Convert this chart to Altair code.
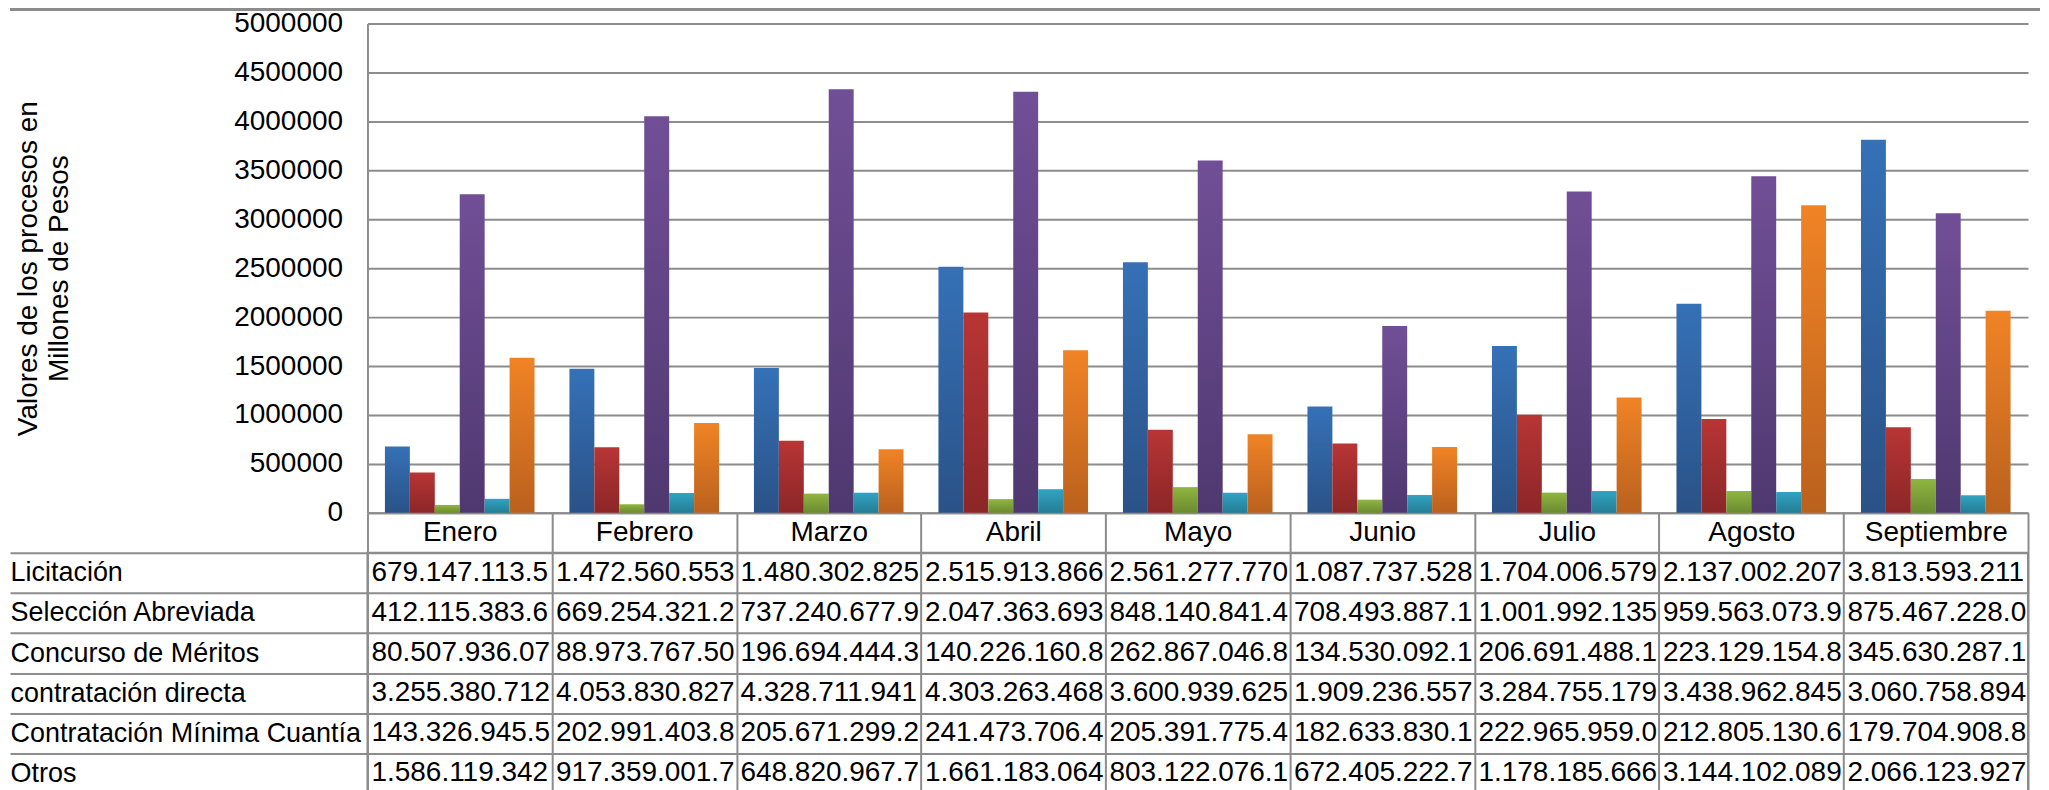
import altair as alt
import pandas as pd

FONT = "Liberation Sans"
GRAY = "#8c8c8c"

meses = ["Enero", "Febrero", "Marzo", "Abril", "Mayo", "Junio", "Julio", "Agosto", "Septiembre"]
series = ["Licitación", "Selección Abreviada", "Concurso de Méritos", "contratación directa",
          "Contratación Mínima Cuantía", "Otros"]

# valores en millones de pesos
licitacion = [679147.1, 1472560.6, 1480302.8, 2515913.9, 2561277.8, 1087737.5, 1704006.6, 2137002.2, 3813593.2]
seleccion = [412115.4, 669254.3, 737240.7, 2047363.7, 848140.8, 708493.9, 1001992.1, 959563.1, 875467.2]
concurso = [80507.9, 88973.8, 196694.4, 140226.2, 262867.0, 134530.1, 206691.5, 223129.2, 345630.3]
directa = [3255380.7, 4053830.8, 4328711.9, 4303263.5, 3600939.6, 1909236.6, 3284755.2, 3438962.8, 3060758.9]
minima = [143326.9, 202991.4, 205671.3, 241473.7, 205391.8, 182633.8, 222966.0, 212805.1, 179704.9]
otros = [1586119.3, 917359.0, 648821.0, 1661183.1, 803122.1, 672405.2, 1178185.7, 3144102.1, 2066123.9]

# textos de la tabla de datos (tal como aparecen, truncados)
txt_licitacion = ["679.147.113.5", "1.472.560.553", "1.480.302.825", "2.515.913.866", "2.561.277.770",
                  "1.087.737.528", "1.704.006.579", "2.137.002.207", "3.813.593.211"]
txt_seleccion = ["412.115.383.6", "669.254.321.2", "737.240.677.9", "2.047.363.693", "848.140.841.4",
                 "708.493.887.1", "1.001.992.135", "959.563.073.9", "875.467.228.0"]
txt_concurso = ["80.507.936.07", "88.973.767.50", "196.694.444.3", "140.226.160.8", "262.867.046.8",
                "134.530.092.1", "206.691.488.1", "223.129.154.8", "345.630.287.1"]
txt_directa = ["3.255.380.712", "4.053.830.827", "4.328.711.941", "4.303.263.468", "3.600.939.625",
               "1.909.236.557", "3.284.755.179", "3.438.962.845", "3.060.758.894"]
txt_minima = ["143.326.945.5", "202.991.403.8", "205.671.299.2", "241.473.706.4", "205.391.775.4",
              "182.633.830.1", "222.965.959.0", "212.805.130.6", "179.704.908.8"]
txt_otros = ["1.586.119.342", "917.359.001.7", "648.820.967.7", "1.661.183.064", "803.122.076.1",
             "672.405.222.7", "1.178.185.666", "3.144.102.089", "2.066.123.927"]

color_top = ["#3571b7", "#b83535", "#8fb640", "#714f97", "#31a3c3", "#f08325"]
color_bottom = ["#2a5287", "#8c2627", "#6b8a30", "#4f3870", "#257d94", "#ba611e"]

valores = [licitacion, seleccion, concurso, directa, minima, otros]
textos = [txt_licitacion, txt_seleccion, txt_concurso, txt_directa, txt_minima, txt_otros]

rows = []
for s, vals, txts in zip(series, valores, textos):
    for m, v, t in zip(meses, vals, txts):
        rows.append({"mes": m, "serie": s, "valor": v, "texto": t})
df = pd.DataFrame(rows)

W = 1663
H = 490

x_scale = alt.Scale(domain=meses, paddingInner=0, paddingOuter=0)
xoff_scale = alt.Scale(domain=series, paddingInner=0, paddingOuter=0.7)
y_scale = alt.Scale(domain=[0, 5000000], nice=False, zero=True)

x_axis = alt.Axis(title=None, orient="bottom", labelAngle=0, labelFont=FONT, labelFontSize=28,
                  labelColor="black", labelPadding=-20, labelBaseline="middle",
                  ticks=True, tickSize=40, tickBand="extent", tickColor=GRAY, tickWidth=2,
                  domainColor=GRAY, domainWidth=2, grid=False)
y_axis = alt.Axis(title=["Valores de los procesos en", "Millones de Pesos"], values=list(range(0, 5000001, 500000)),
                  format="d", labelFont=FONT, labelFontSize=28, labelColor="black", labelPadding=25,
                  ticks=False, tickSize=0, domainColor=GRAY, domainWidth=2,
                  grid=True, gridColor=GRAY, gridWidth=2,
                  titleFont=FONT, titleFontSize=28, titleFontWeight="normal", titleColor="black",
                  titleLineHeight=31, titlePadding=160)


def grad(top, bottom):
    return alt.Gradient(gradient="linear",
                        stops=[alt.GradientStop(offset=0, color=top), alt.GradientStop(offset=1, color=bottom)],
                        x1=0, x2=0, y1=0, y2=1)


layers = []
for s, ct, cb in zip(series, color_top, color_bottom):
    layers.append(
        alt.Chart(df).transform_filter(alt.datum.serie == s).mark_bar(color=grad(ct, cb)).encode(
            x=alt.X("mes:N", scale=x_scale, axis=x_axis),
            xOffset=alt.XOffset("serie:N", scale=xoff_scale),
            y=alt.Y("valor:Q", scale=y_scale, axis=y_axis),
        )
    )

# marco superior del gráfico
frame = alt.Chart(df).mark_rule(color=GRAY, strokeWidth=2).encode(
    x=alt.value(-358), x2=alt.value(W + 12), y=alt.value(-14)
)

bars = alt.layer(*layers, frame).properties(width=W, height=H, view=alt.ViewBackground(stroke=None))

# tabla de datos
tx_axis = alt.Axis(title=None, orient="top", labels=False, ticks=False, domain=False,
                   grid=True, gridColor=GRAY, gridWidth=2, tickBand="extent")
ty_axis = alt.Axis(title=None, orient="left", labelAlign="left", labelBaseline="middle", labelPadding=0,
                   labelFont=FONT, labelFontSize=27, labelColor="black", labelLimit=400,
                   ticks=True, tickSize=358, tickBand="extent", tickColor=GRAY, tickWidth=2,
                   domain=False, grid=True, gridColor=GRAY, gridWidth=2)

table = alt.Chart(df).mark_text(align="left", baseline="middle", dx=4, font=FONT, fontSize=28,
                                color="black").encode(
    x=alt.X("mes:N", scale=x_scale, axis=tx_axis, bandPosition=0),
    y=alt.Y("serie:N", scale=alt.Scale(domain=series, paddingInner=0, paddingOuter=0), axis=ty_axis),
    text="texto:N",
).properties(width=W, height=241, view=alt.ViewBackground(stroke=GRAY, strokeWidth=2))

chart = alt.vconcat(bars, table, spacing=40, bounds="flush").resolve_scale(
    x="independent", y="independent"
).properties(padding=0, background="white")

chart.save("out.html", embed_options={"renderer": "svg", "actions": False})
